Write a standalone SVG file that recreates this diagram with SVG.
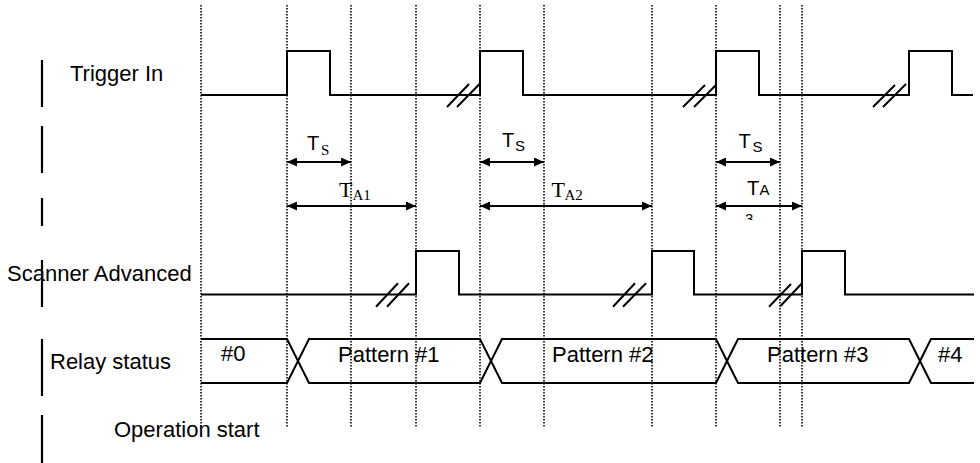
<svg xmlns="http://www.w3.org/2000/svg" width="980" height="463" viewBox="0 0 980 463">
<style>
.bg{fill:#fff}
.grid{stroke:#000;stroke-width:1.6;stroke-dasharray:1.5 1.5;fill:none}
.bar{stroke:#000;stroke-width:2.2;fill:none}
.wave{stroke:#000;stroke-width:2;fill:none;stroke-linejoin:miter}
.arr{stroke:#000;stroke-width:2;fill:none;marker-start:url(#ah);marker-end:url(#ah)}
.lbl{font-family:"Liberation Sans",Arial,sans-serif;font-size:22px;fill:#000}
.ts{font-family:"Liberation Sans",Arial,sans-serif;font-size:20px;fill:#000}
.sub{font-family:"Liberation Sans",Arial,sans-serif;font-size:15px;fill:#000}
.tr{font-family:"Liberation Serif","Times New Roman",serif;font-size:22px;fill:#000}
.trs{font-family:"Liberation Serif","Times New Roman",serif;font-size:15px;fill:#000}
</style>
<defs>
<marker id="ah" viewBox="0 0 10 9" refX="10" refY="4.5" markerWidth="10" markerHeight="9" markerUnits="userSpaceOnUse" orient="auto-start-reverse">
<path d="M0,0 L10,4.5 L0,9 Z" fill="#000"/>
</marker>
<clipPath id="clip3"><rect x="735" y="208" width="30" height="12"/></clipPath>
</defs>
<rect class="bg" x="0" y="0" width="980" height="463"/>
<g id="gridlines">
<line class="grid" x1="201" y1="5" x2="201" y2="427"/>
<line class="grid" x1="287" y1="5" x2="287" y2="427"/>
<line class="grid" x1="351" y1="5" x2="351" y2="427"/>
<line class="grid" x1="416" y1="5" x2="416" y2="427"/>
<line class="grid" x1="480" y1="5" x2="480" y2="427"/>
<line class="grid" x1="544" y1="5" x2="544" y2="427"/>
<line class="grid" x1="652" y1="5" x2="652" y2="427"/>
<line class="grid" x1="716" y1="5" x2="716" y2="427"/>
<line class="grid" x1="780" y1="5" x2="780" y2="427"/>
<line class="grid" x1="802" y1="5" x2="802" y2="427"/>
</g>
<g id="left-bars">
<line class="bar" x1="42" y1="60" x2="42" y2="107"/>
<line class="bar" x1="42" y1="126" x2="42" y2="173"/>
<line class="bar" x1="42" y1="198" x2="42" y2="226"/>
<line class="bar" x1="42" y1="260" x2="42" y2="307"/>
<line class="bar" x1="42" y1="339" x2="42" y2="396"/>
<line class="bar" x1="42" y1="415" x2="42" y2="463"/>
</g>
<g id="trigger-in">
<text class="lbl" x="70" y="81">Trigger In</text>
<path class="wave" d="M201,95 H287 V51 H330 V95 H480 V51 H523 V95 H716 V51 H759 V95 H909 V51 H952 V95 H973"/>
<path class="wave" d="M447,107 L469,84 M457,107 L479.5,84 M683,107 L705,85 M694,107 L716,85 M873,107 L895,85 M883,107 L906,84"/>
</g>
<g id="scanner-advanced">
<text class="lbl" x="7" y="281">Scanner Advanced</text>
<path class="wave" d="M201,294.5 H416 V251 H459 V294.5 H652 V251 H694 V294.5 H802 V251 H845 V294.5 H974"/>
<path class="wave" d="M376,306.7 L398,283.3 M387,306.7 L409,283.3 M613,306.7 L635,283.3 M623,306.7 L646,283.3 M769,306.7 L791,284 M780,306.5 L802,283.3"/>
</g>
<g id="relay-status">
<text class="lbl" x="50" y="369">Relay status</text>
<path class="wave" d="M201,339 H287 L309,383 H480 L502,339 H716 L738,383 H909 L931,339 H974"/>
<path class="wave" d="M201,383 H287 L309,339 H480 L502,383 H716 L738,339 H909 L931,383 H974"/>
<text class="lbl" x="221" y="361">#0</text>
<text class="lbl" x="338" y="362">Pattern #1</text>
<text class="lbl" x="552" y="362">Pattern #2</text>
<text class="lbl" x="767" y="362">Pattern #3</text>
<text class="lbl" x="938" y="362">#4</text>
</g>
<g id="operation-start">
<text class="lbl" x="114" y="437">Operation start</text>
</g>
<g id="connectors">
<line class="arr" x1="287" y1="162" x2="351" y2="162"/>
<line class="arr" x1="480" y1="162" x2="544" y2="162"/>
<line class="arr" x1="716" y1="162" x2="780" y2="162"/>
<line class="arr" x1="287" y1="206" x2="416" y2="206"/>
<line class="arr" x1="480" y1="206" x2="652" y2="206"/>
<line class="arr" x1="716" y1="206" x2="802" y2="206"/>
</g>
<g id="timing-labels">
<text class="ts" x="307" y="150">T</text><text class="trs" x="321" y="155" font-size="14">S</text>
<text class="ts" x="502" y="147">T</text><text class="sub" x="515" y="151">S</text>
<text class="ts" x="738.5" y="148">T</text><text class="sub" x="752.5" y="152">S</text>
<text class="tr" x="339" y="197">T</text><text class="trs" x="352.5" y="200">A1</text>
<text class="tr" x="551.5" y="197">T</text><text class="trs" x="564.5" y="200">A2</text>
<text class="ts" x="747" y="195">T</text><text class="sub" x="759.5" y="195">A</text>
<text class="sub" x="745" y="224" clip-path="url(#clip3)">3</text>
</g>
</svg>
